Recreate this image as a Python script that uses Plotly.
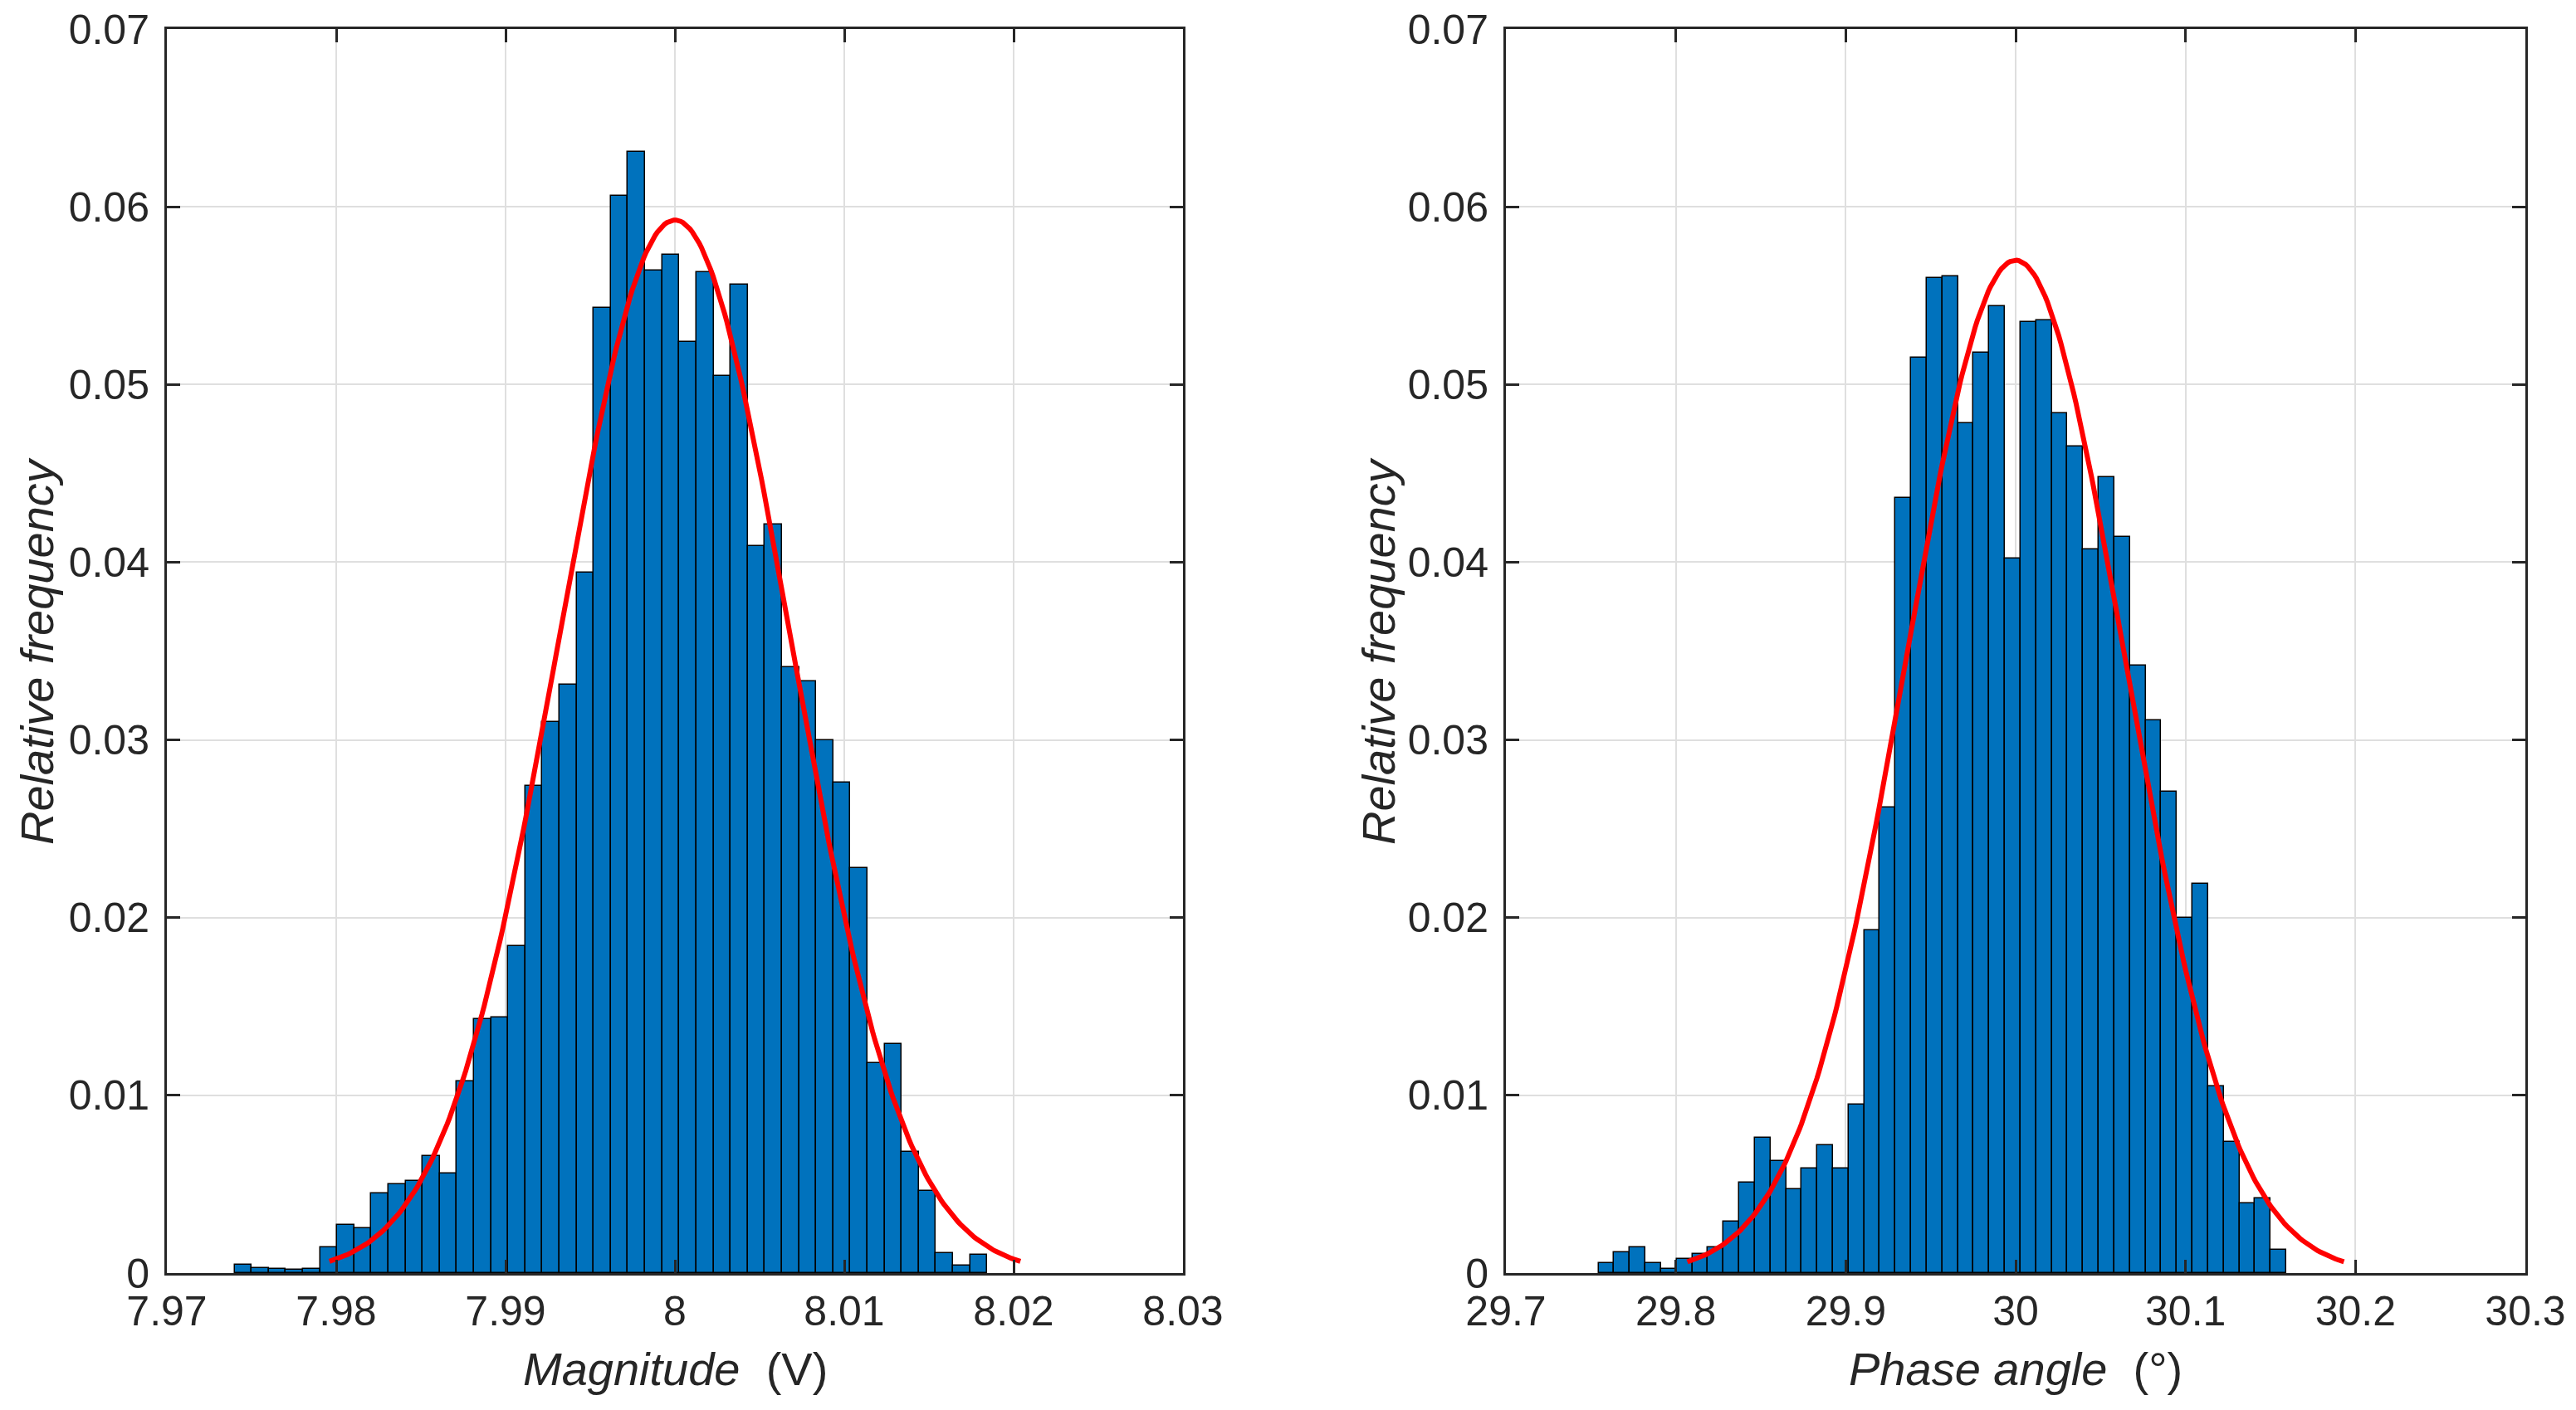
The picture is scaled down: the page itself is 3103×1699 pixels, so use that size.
import numpy as np
import plotly.graph_objects as go

# Histogram of magnitude (V): first bin edge, bin width, relative frequency per bin
mag_edge0 = 7.974
mag_binw = 0.00101
mag_freq = [0.00045, 0.0003, 0.00025, 0.0002, 0.00025, 0.00145, 0.0027, 0.0025,
            0.0045, 0.0050, 0.0052, 0.0066, 0.0056, 0.0108, 0.0143, 0.0144,
            0.0184, 0.0274, 0.0310, 0.0331, 0.0394, 0.0543, 0.0606, 0.0631,
            0.0564, 0.0573, 0.0524, 0.0563, 0.0505, 0.0556, 0.0409, 0.0421,
            0.0341, 0.0333, 0.0300, 0.0276, 0.0228, 0.0118, 0.0129, 0.0068,
            0.0046, 0.0011, 0.00044, 0.00103]
mag_mu = 8.0
mag_sigma = 0.0068

# Histogram of phase angle (deg)
ph_edge0 = 29.7545
ph_binw = 0.0092
ph_freq = [0.00054, 0.00116, 0.00147, 0.00054, 0.00023, 0.00081, 0.00109, 0.00147,
           0.0029, 0.0051, 0.0076, 0.0063, 0.0047, 0.0059, 0.0072, 0.0059,
           0.0095, 0.0193, 0.0262, 0.0436, 0.0515, 0.0560, 0.0561, 0.0478,
           0.0518, 0.0544, 0.0402, 0.0535, 0.0536, 0.0484, 0.0465, 0.0407,
           0.0448, 0.0414, 0.0342, 0.0311, 0.0271, 0.0200, 0.0219, 0.0105,
           0.0074, 0.0039, 0.0042, 0.0013]
ph_mu = 30.0
ph_sigma = 0.0644

mag_ticks = [7.97, 7.98, 7.99, 8.0, 8.01, 8.02, 8.03]
mag_ticktext = ["7.97", "7.98", "7.99", "8", "8.01", "8.02", "8.03"]
ph_ticks = [29.7, 29.8, 29.9, 30.0, 30.1, 30.2, 30.3]
ph_ticktext = ["29.7", "29.8", "29.9", "30", "30.1", "30.2", "30.3"]
y_ticks = [0, 0.01, 0.02, 0.03, 0.04, 0.05, 0.06, 0.07]
y_ticktext = ["0", "0.01", "0.02", "0.03", "0.04", "0.05", "0.06", "0.07"]

BAR = "#0072BD"
AX = "#262626"
FONT = "Arial, Liberation Sans, sans-serif"


def fit_curve(mu, sigma, binw):
    # normal fit scaled to relative frequency, drawn over mu +/- 3 sigma
    x = np.linspace(mu - 3 * sigma, mu + 3 * sigma, 300)
    y = binw / (sigma * np.sqrt(2 * np.pi)) * np.exp(-0.5 * ((x - mu) / sigma) ** 2)
    return x, y


fig = go.Figure()

for edge0, binw, freq, mu, sigma, xa, ya in [
    (mag_edge0, mag_binw, mag_freq, mag_mu, mag_sigma, "x", "y"),
    (ph_edge0, ph_binw, ph_freq, ph_mu, ph_sigma, "x2", "y2"),
]:
    centers = edge0 + binw * (np.arange(len(freq)) + 0.5)
    fig.add_trace(go.Bar(x=centers, y=freq, width=binw, xaxis=xa, yaxis=ya,
                         marker=dict(color=BAR, line=dict(color="black", width=1.5)),
                         showlegend=False))
    cx, cy = fit_curve(mu, sigma, binw)
    fig.add_trace(go.Scatter(x=cx, y=cy, mode="lines", xaxis=xa, yaxis=ya,
                             line=dict(color="#FF0000", width=6), showlegend=False))

# page body has an 8px margin, so the figure is shrunk and shifted to match
OFF = 8
W, H = 3103 - 2 * OFF, 1699 - 2 * OFF


def fx(px):
    return (px - OFF) / W


def fy(py):
    return 1 - (py - OFF) / H


y_dom = [fy(1534), fy(35)]
axis_style = dict(showline=True, linecolor=AX, linewidth=3, mirror="ticks",
                  ticks="inside", ticklen=16, tickwidth=2.5, tickcolor=AX,
                  showgrid=True, gridcolor="#DFDFDF", gridwidth=2, zeroline=False,
                  automargin=False, ticklabeloverflow="allow",
                  tickfont=dict(family=FONT, size=50, color=AX))

fig.update_layout(
    width=W, height=H,
    margin=dict(l=0, r=0, t=0, b=0),
    paper_bgcolor="white", plot_bgcolor="white",
    bargap=0,
    xaxis=dict(domain=[fx(201), fx(1425)], range=[7.97, 8.03],
               tickvals=mag_ticks, ticktext=mag_ticktext, anchor="y", **axis_style),
    yaxis=dict(domain=y_dom, range=[0, 0.07], tickvals=y_ticks, ticktext=y_ticktext,
               anchor="x", ticklabelstandoff=8, **axis_style),
    xaxis2=dict(domain=[fx(1814), fx(3042)], range=[29.7, 30.3],
                tickvals=ph_ticks, ticktext=ph_ticktext, anchor="y2", **axis_style),
    yaxis2=dict(domain=y_dom, range=[0, 0.07], tickvals=y_ticks, ticktext=y_ticktext,
                anchor="x2", ticklabelstandoff=8, **axis_style),
)

title_font = dict(family=FONT, size=56, color=AX)
titles = [
    ("<i>Magnitude</i>&nbsp; (V)", 813, 1649, 0),
    ("<i>Phase angle</i>&nbsp; (°)", 2428, 1649, 0),
    ("<i>Relative frequency</i>", 44, 785, -90),
    ("<i>Relative frequency</i>", 1660, 785, -90),
]
for text, px_, py_, ang in titles:
    fig.add_annotation(text=text, x=fx(px_), y=fy(py_), xref="paper", yref="paper",
                       showarrow=False, textangle=ang, font=title_font,
                       xanchor="center", yanchor="middle")

fig.write_html("out.html")
